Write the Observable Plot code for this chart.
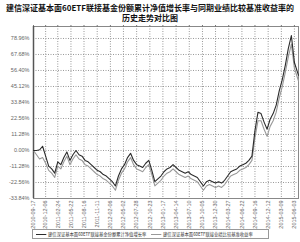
<!DOCTYPE html>
<html><head><meta charset="utf-8">
<script src="https://cdn.jsdelivr.net/npm/d3@7"></script>
<script src="https://cdn.jsdelivr.net/npm/@observablehq/plot@0.6"></script>
<style>
body{margin:0;width:300px;height:242px;background:#fff;font-family:"Noto Sans CJK SC","Noto Sans",sans-serif;position:relative;overflow:hidden}
#title{position:absolute;top:3px;left:0;width:300px;text-align:center;font-size:8px;line-height:10px;font-weight:bold;color:#111;white-space:nowrap}
#chart{position:absolute;top:24px;left:0}
#legend{position:absolute;top:229px;left:32px;width:237px;height:10px;border:1px solid #999;box-sizing:border-box;font-size:5px;line-height:8px;color:#333;white-space:nowrap}
#legend span.item{position:absolute;top:0;transform:scaleX(0.86);transform-origin:0 50%}
#legend i{display:inline-block;width:12px;height:0;border-top:1px solid;vertical-align:middle;margin-right:2px}
</style></head>
<body>
<div id="title"></div>
<div id="chart"></div>
<div id="legend"></div>
<script>
const titleLines = ["建信深证基本面60ETF联接基金份额累计净值增长率与同期业绩比较基准收益率的", "历史走势对比图"];
const seriesNames = ["建信深证基本面60ETF联接基金份额累计净值增长率", "建信深证基本面60ETF联接业绩比较基准收益率"];
const seriesColors = ["#2b2b2b", "#999999"];

const dates = ["2010-09-17","2010-10-07","2010-10-27","2010-11-16","2010-12-06","2010-12-26","2011-01-15","2011-02-04","2011-02-24","2011-03-16",
"2011-04-05","2011-04-25","2011-05-15","2011-06-04","2011-06-24","2011-07-14","2011-08-03","2011-08-23","2011-09-12","2011-10-02",
"2011-10-22","2011-11-11","2011-12-01","2011-12-21","2012-01-10","2012-01-30","2012-02-19","2012-03-10","2012-03-30","2012-04-19",
"2012-05-09","2012-05-29","2012-06-18","2012-07-08","2012-07-28","2012-08-17","2012-09-06","2012-09-26","2012-10-16","2012-11-05",
"2012-11-25","2012-12-15","2013-01-04","2013-01-24","2013-02-13","2013-03-05","2013-03-25","2013-04-14","2013-05-04","2013-05-24",
"2013-06-13","2013-07-03","2013-07-23","2013-08-12","2013-09-01","2013-09-21","2013-10-11","2013-10-31","2013-11-20","2013-12-10",
"2013-12-30","2014-01-19","2014-02-08","2014-02-28","2014-03-20","2014-04-09","2014-04-29","2014-05-19","2014-06-08","2014-06-28",
"2014-07-18","2014-08-07","2014-08-27","2014-09-16","2014-10-06","2014-10-26","2014-11-15","2014-12-05","2014-12-25","2015-01-14",
"2015-02-03","2015-02-23","2015-03-15","2015-04-04","2015-04-24","2015-05-14","2015-06-03","2015-06-30"];

const fundValues = [0,0,0.5,3,-4,-11,-13,-16,-8,-10,
-5,-1,-7,-3,0,-3,-4,-7,-8,-10,
-12,-14,-15,-17,-18,-20,-22,-25,-18,-13,
-10,-5,-2,-7,-10,-11,-12,-9,-7,-14,
-22,-20,-18,-15,-13,-12,-10,-12,-14,-15,
-16,-15,-17,-18,-19,-22,-25,-22,-21,-22,
-23,-22,-23,-21,-18,-15,-14,-13,-11,-10,
-9,-7,-4,14,27,26,20,15,22,26,
32,42,50,60,72,81,62,53];

const benchValues = [0,-3,-6,-5,-9,-14,-16,-19,-11,-13,
-8,-4,-10,-6,-3,-6,-7,-10,-11,-13,
-15,-17,-18,-20,-21,-23,-25,-28,-21,-16,
-13,-8,-5,-10,-13,-14,-15,-12,-10,-17,
-25,-23,-21,-18,-16,-15,-13,-15,-17,-18,
-19,-18,-20,-21,-22,-25,-28,-25,-24,-25,
-26,-25,-26,-24,-21,-18,-17,-16,-14,-13,
-12,-10,-7,9,21,21,15,10,17,21,
27,37,45,55,66,75,58,49];

const xTickLabels = ["2010-09-17","2010-12-06","2011-02-24","2011-05-22","2011-08-16","2011-11-11","2012-02-06","2012-05-02","2012-07-28","2012-10-23",
"2013-01-17","2013-04-14","2013-07-10","2013-10-05","2013-12-30","2014-03-27","2014-06-22","2014-09-16","2014-12-12","2015-03-09","2015-06-03"];
const yTicks = [-33.84,-22.56,-11.28,0,11.28,22.56,33.84,45.12,56.40,67.68,78.96];
const yMax = 87.4;

const parse = d3.utcParse("%Y-%m-%d");
const rows = [];
dates.forEach((d, i) => {
  rows.push({date: parse(d), v: benchValues[i], s: seriesNames[1]});
});
dates.forEach((d, i) => {
  rows.push({date: parse(d), v: fundValues[i], s: seriesNames[0]});
});
const xTicks = xTickLabels.map(parse);
const fmt = d3.utcFormat("%Y-%m-%d");

document.getElementById("title").innerHTML = titleLines.join("<br>");

const chart = Plot.plot({
  width: 300, height: 205,
  marginTop: 2, marginBottom: 31, marginLeft: 33, marginRight: 2,
  style: {fontSize: "5.5px", fontFamily: "'Liberation Sans', Arial, sans-serif", color: "#666", background: "white"},
  x: {type: "utc", domain: [parse(dates[0]), parse(dates[dates.length-1])], label: null},
  y: {domain: [yTicks[0], yMax], label: null},
  color: {domain: seriesNames, range: seriesColors},
  marks: [
    Plot.gridX(xTicks, {stroke: "#999", strokeOpacity: 1, strokeDasharray: "1,1.5"}),
    Plot.gridY(yTicks, {stroke: "#999", strokeOpacity: 1, strokeDasharray: "1,1.5"}),
    Plot.frame({stroke: "#888"}),
    Plot.axisY(yTicks, {tickSize: 0, tickPadding: 4, tickFormat: d => d.toFixed(2) + "%", label: null}),
    Plot.axisX(xTicks, {tickSize: 0, tickPadding: 2, tickRotate: -90, tickFormat: fmt, label: null}),
    Plot.axisX(xTicks, {anchor: "top", tickSize: 2, tickFormat: () => "", label: null, stroke: "#777"}),
    Plot.ruleX([parse(dates[0])], {stroke: "#555", strokeWidth: 1.5}),
    Plot.lineY(rows, {x: "date", y: "v", z: "s", stroke: "s", strokeWidth: 1.1})
  ]
});
document.getElementById("chart").appendChild(chart);

const leg = document.getElementById("legend");
const lefts = [3, 118];
seriesNames.forEach((n, i) => {
  const s = document.createElement("span");
  s.className = "item";
  s.style.left = lefts[i] + "px";
  s.innerHTML = `<i style="border-color:${seriesColors[i]}"></i>${n}`;
  leg.appendChild(s);
});
</script>
</body></html>
